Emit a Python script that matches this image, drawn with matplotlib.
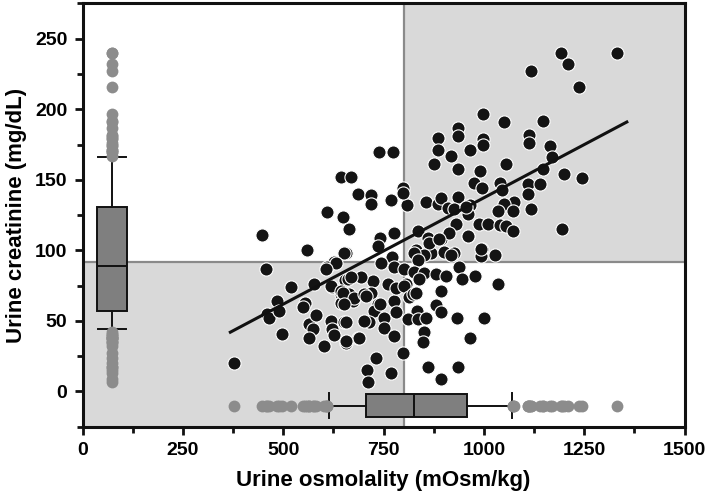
import numpy as np
import matplotlib
matplotlib.use("Agg")
import matplotlib.pyplot as plt
from matplotlib.patches import Rectangle
from matplotlib.ticker import MultipleLocator
from matplotlib import font_manager

names = {f.name for f in font_manager.fontManager.ttflist}
narrow = 'Liberation Sans Narrow' in names
plt.rcParams['font.family'] = (['Liberation Sans Narrow'] if narrow else []) + ['Liberation Sans', 'DejaVu Sans']

# --- data ---
points = [
    (1332,240),(1192,240),(1209,232),(1116,227),(1238,216),(997,197),(1049,191),(1148,192),
    (936,187),(936,181),(885,180),(886,171),(919,167),(875,161),(936,158),(966,171),(997,179),
    (997,175),(1112,182),(1112,176),(1165,174),(1169,166),(1148,158),(1054,161),(1199,154),
    (1244,151),(989,156),(974,148),(996,144),(1039,148),(1044,143),(1109,147),(1139,147),
    (1109,140),(1116,129),(1076,134),(1051,133),(1034,128),(1073,128),(1194,115),(987,119),
    (1009,119),(1039,118),(1056,117),(1073,114),(961,110),(994,101),(1028,97),(966,132),
    (961,126),(807,132),(856,134),(885,133),(894,137),(935,138),(910,130),(926,129),(954,131),
    (931,119),(836,114),(861,109),(892,108),(914,112),(960,110),(831,100),(868,98),(901,99),
    (926,98),(864,105),(851,97),(993,96),(798,144),(798,141),(826,98),(836,93),(889,108),
    (919,97),(993,101),
    (739,170),(773,170),(643,152),(668,152),(685,140),(718,139),(718,133),(769,136),(608,127),
    (649,124),(664,115),(448,111),(560,100),(656,98),(741,109),(776,112),(735,103),(626,92),
    (651,98),(772,95),
    (456,87),(610,88),(631,91),(518,74),(577,76),(622,74),(654,79),(460,55),(464,52),(485,64),
    (489,57),(496,41),(553,63),(548,60),(564,48),(581,54),(574,44),(564,38),(601,32),(619,50),
    (622,44),(627,40),(651,49),(656,34),(647,63),(673,64),(644,69),(664,69),(685,38),(376,20),
    (606,87),(619,75),(643,71),(643,63),(744,91),(776,88),(723,78),(693,81),(660,80),(648,70),
    (677,66),(718,70),(702,69),(735,62),(726,57),(776,64),(781,56),(761,76),(781,73),(751,52),
    (714,49),(702,50),(751,45),(656,49),(688,38),(656,36),(776,39),(797,27),(731,24),(708,15),
    (769,13),(711,7),(706,68),(740,62),(668,81),(651,62),
    (801,87),(826,85),(851,84),(881,83),(906,82),(939,88),(946,80),(977,82),(1036,76),(894,71),
    (838,80),(806,76),(801,75),(814,67),(823,69),(831,70),(834,57),(811,51),(836,51),(856,52),
    (880,61),(893,56),(932,52),(999,52),(851,42),(848,35),(966,38),(860,17),(893,9),(935,17),
]
osmolality = [p[0] for p in points]
creatinine = [p[1] for p in points]

# regression line end points
fit_x = [368, 1356]
fit_y = [42, 191]

# cut-offs
osm_cut = 800
crea_cut = 92

# box-plot statistics (10th, 25th, 50th, 75th, 90th percentiles)
crea_stats = [44, 57, 89, 131, 166]
osm_stats = [614, 707, 826, 958, 1070]

x_ticks = [0, 250, 500, 750, 1000, 1250, 1500]
y_ticks = [0, 50, 100, 150, 200, 250]

tick_size = 16.5 if narrow else 14
label_size = 20 if narrow else 16

# --- figure ---
fig = plt.figure(figsize=(7.09, 5.00), dpi=100)
ax = fig.add_axes([0.1166, 0.1466, 0.849, 0.8464])
ax.set_xlim(0, 1500)
ax.set_ylim(-25, 275)

shade = '#d9d9d9'
ax.add_patch(Rectangle((0, -25), osm_cut, crea_cut + 25, facecolor=shade, edgecolor='none', zorder=0))
ax.add_patch(Rectangle((osm_cut, crea_cut), 1500 - osm_cut, 275 - crea_cut, facecolor=shade,
                       edgecolor='none', zorder=0))
ax.axvline(osm_cut, color='#8a8a8a', lw=1.6, zorder=1)
ax.axhline(crea_cut, color='#8a8a8a', lw=1.6, zorder=1)

cr = np.array(creatinine)
os_ = np.array(osmolality)
crea_fliers = cr[(cr < crea_stats[0]) | (cr > crea_stats[4])]
osm_fliers = os_[(os_ < osm_stats[0]) | (os_ > osm_stats[4])]

def mkstats(s, fl):
    return dict(whislo=s[0], q1=s[1], med=s[2], q3=s[3], whishi=s[4], fliers=fl)

boxprops = dict(facecolor='#7f7f7f', edgecolor='#111111', linewidth=1.4)
lineprops = dict(color='#111111', linewidth=1.4)
flierprops = dict(marker='o', markerfacecolor='#8c8c8c', markeredgecolor='none', markersize=8.5)

ax.bxp([mkstats(crea_stats, crea_fliers)], positions=[73], widths=[76], vert=True,
       patch_artist=True, boxprops=boxprops, medianprops=lineprops, whiskerprops=lineprops,
       capprops=lineprops, flierprops=flierprops, capwidths=[70], manage_ticks=False, zorder=2)
ax.bxp([mkstats(osm_stats, osm_fliers)], positions=[-10], widths=[16.5], vert=False,
       patch_artist=True, boxprops=boxprops, medianprops=lineprops, whiskerprops=lineprops,
       capprops=lineprops, flierprops=flierprops, capwidths=[18], manage_ticks=False, zorder=2)

ax.scatter(osmolality, creatinine, s=90, c='#141414', edgecolors='white', linewidths=0.8, zorder=3)
ax.plot(fit_x, fit_y, color='#111111', lw=2.2, zorder=4)

ax.set_xticks(x_ticks)
ax.set_yticks(y_ticks)
ax.xaxis.set_minor_locator(MultipleLocator(125))
ax.yaxis.set_minor_locator(MultipleLocator(25))
ax.tick_params(which='both', direction='out', width=2, color='#111111', top=False, right=False)
ax.tick_params(which='major', length=6, labelsize=tick_size, pad=5)
ax.tick_params(which='minor', length=4)
for lab in ax.get_xticklabels() + ax.get_yticklabels():
    lab.set_fontweight('bold')
for sp in ax.spines.values():
    sp.set_linewidth(2.2)
    sp.set_color('#111111')

ax.set_xlabel('Urine osmolality (mOsm/kg)', fontsize=label_size, fontweight='bold', labelpad=8)
ax.set_ylabel('Urine creatinine (mg/dL)', fontsize=label_size, fontweight='bold', labelpad=6)

fig.savefig('out.png', dpi=100)
